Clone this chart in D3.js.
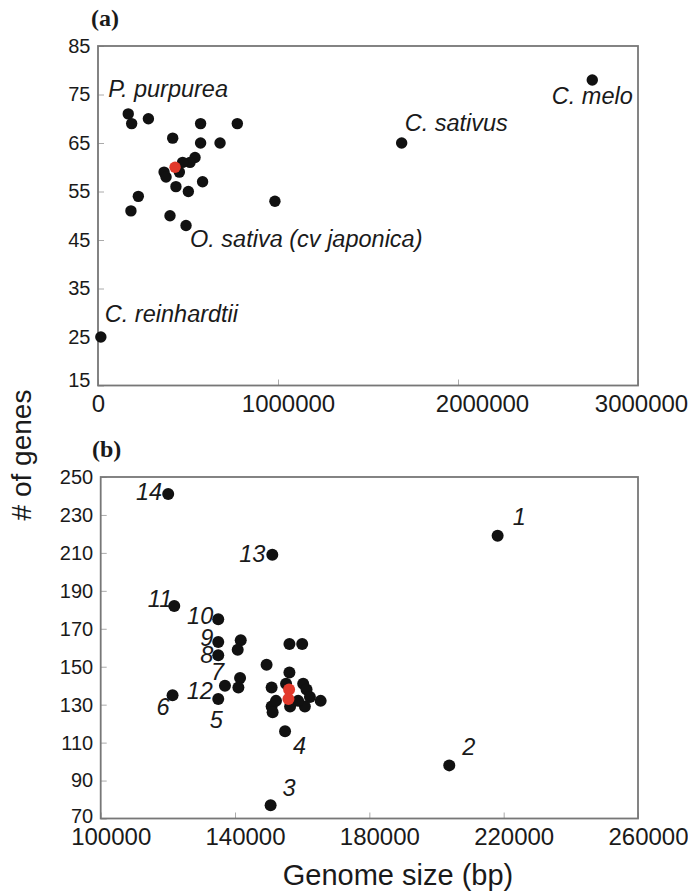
<!DOCTYPE html>
<html>
<head>
<meta charset="utf-8">
<script src="https://cdn.jsdelivr.net/npm/d3@7"></script>
<style>
  body { margin: 0; background: #fff; }
  text { font-family: "Liberation Sans", Arial, Helvetica, sans-serif; fill: #1a1a1a; }
</style>
</head>
<body>
<div id="chart"></div>
<script>
// ---- panel (a) : genome size vs gene count
const genomeA = [168000, 187000, 280000, 570000, 774000, 415000, 570000, 678000, 539000, 511000,
                 470000, 452000, 367000, 378000, 581000, 433000, 502000, 224000, 983000, 183000,
                 400000, 489000, 1687000, 2746000, 15800, 428000];
const genesA = [71, 69, 70, 69, 69, 66, 65, 65, 62, 61,
                61, 59, 59, 58, 57, 56, 55, 54, 53, 51,
                50, 48, 65, 78, 25, 60];
const namesA = ["P. purpurea", "", "", "", "", "", "", "", "", "",
                "", "", "", "", "", "", "", "", "", "",
                "", "O. sativa (cv japonica)", "C. sativus", "C. melo", "C. reinhardtii", ""];
const redA = [25];
const xTicksA = [0, 1000000, 2000000, 3000000];
const yTicksA = [15, 25, 35, 45, 55, 65, 75, 85];

// ---- panel (b)
const genomeB = [120100, 151100, 121900, 135000, 135000, 135000, 141700, 140800, 156200, 160000,
                 149400, 137000, 141500, 141000, 135000, 121400, 156200, 150900, 155200, 160300,
                 161300, 162300, 165500, 160800, 150900, 151200, 156400, 158800, 152200, 154900,
                 150600, 218200, 203800, 156100, 155900];
const genesB = [241, 209, 182, 175, 163, 156, 164, 159, 162, 162,
                151, 140, 144, 139, 133, 135, 147, 139, 141, 141,
                138, 134, 132, 129, 129, 126, 129, 132, 132, 116,
                77, 219, 98, 138, 133];
const namesB = ["14", "13", "11", "10", "9", "8", "", "", "", "",
                "", "12", "7", "", "5", "6", "", "", "", "",
                "", "", "", "", "", "", "", "", "", "4",
                "3", "1", "2", "", ""];
const redB = [33, 34];
const xTicksB = [100000, 140000, 180000, 220000, 260000];
const yTicksB = [70, 90, 110, 130, 150, 170, 190, 210, 230, 250];

const xTitle = "Genome size (bp)";
const yTitle = "# of genes";

const width = 688;
const height = 891;

const svg = d3.select('#chart')
    .append('svg')
    .attr('width', width)
    .attr('height', height);

// where each name sits relative to its dot: [dx, dy, anchor]
const labelPos = {
    "P. purpurea": [-20, -17, "start"],
    "C. sativus": [3, -12, "start"],
    "C. melo": [0, 24, "middle"],
    "O. sativa (cv japonica)": [4, 22, "start"],
    "C. reinhardtii": [4, -15, "start"],
    "14": [-6, 6, "end"], "13": [-7, 7, "end"], "11": [-2, 1, "end"],
    "10": [-5, 5, "end"], "9": [-5, 4, "end"], "8": [-5, 8, "end"],
    "7": [-16, 2, "end"], "12": [-12, 13, "end"], "5": [-2, 29, "middle"],
    "6": [-3, 20, "end"], "4": [8, 23, "start"], "3": [12, -9, "start"],
    "1": [15, -11, "start"], "2": [13, -10, "start"]
};

function drawPanel(p) {
    const g = svg.append('g');
    const x = d3.scaleLinear().domain(p.xDomain).range(p.xRange);
    const y = d3.scaleLinear().domain(p.yDomain).range(p.yRange);

    const xAxis = d3.axisBottom(x).tickValues(p.xTicks).tickFormat(d3.format('d'))
        .tickSizeInner(-6).tickSizeOuter(0).tickPadding(9);
    const yAxis = d3.axisLeft(y).tickValues(p.yTicks).tickFormat(d3.format('d'))
        .tickSizeInner(-6).tickSizeOuter(0).tickPadding(7.5);

    const gx = g.append('g')
        .attr('transform', `translate(0,${p.yRange[0]})`)
        .call(xAxis);
    const gy = g.append('g')
        .attr('transform', `translate(${p.xRange[0]},0)`)
        .call(yAxis);

    [gx, gy].forEach(a => {
        a.select('.domain').remove();
        a.selectAll('.tick line').attr('stroke', '#aaa').attr('stroke-width', 1);
    });
    gx.selectAll('.tick text')
        .style('font-size', '24px')
        .attr('fill', '#1a1a1a')
        .attr('dx', p.xShift);
    gy.selectAll('.tick text')
        .style('font-size', '20px')
        .attr('fill', '#1a1a1a')
        .attr('y', d => d === p.yDomain[0] ? -p.lift : 0);

    // frame
    g.append('rect')
        .attr('x', p.xRange[0])
        .attr('y', p.yRange[1])
        .attr('width', p.xRange[1] - p.xRange[0])
        .attr('height', p.yRange[0] - p.yRange[1])
        .attr('fill', 'none')
        .attr('stroke', '#777')
        .attr('stroke-width', 1.8);

    const idx = d3.range(p.genome.length);
    const black = idx.filter(i => !p.red.includes(i));

    g.selectAll('circle.dot')
        .data(black.concat(p.red))
        .join('circle')
        .attr('class', 'dot')
        .attr('cx', i => x(p.genome[i]))
        .attr('cy', i => y(p.genes[i]))
        .attr('r', p.r)
        .attr('fill', i => p.red.includes(i) ? '#e2392b' : '#111');

    g.selectAll('text.lab')
        .data(idx.filter(i => p.names[i] !== ''))
        .join('text')
        .attr('class', 'lab')
        .attr('x', i => x(p.genome[i]) + labelPos[p.names[i]][0])
        .attr('y', i => y(p.genes[i]) + labelPos[p.names[i]][1])
        .attr('text-anchor', i => labelPos[p.names[i]][2])
        .style('font-size', '23.5px')
        .style('font-style', 'italic')
        .text(i => p.names[i]);

    svg.append('text')
        .attr('x', p.tagX)
        .attr('y', p.tagY)
        .style('font-family', '"Liberation Serif", "Times New Roman", serif')
        .style('font-weight', 'bold')
        .style('font-size', '24px')
        .text(p.tag);
}

drawPanel({
    genome: genomeA, genes: genesA, names: namesA, red: redA,
    xTicks: xTicksA, yTicks: yTicksA,
    xDomain: [0, 3000000], xRange: [98, 638],
    yDomain: [15, 85], yRange: [385.5, 46],
    xShift: (d, i) => [0, 10, 24, 3][i], lift: 5,
    r: 5.7, tag: '(a)', tagX: 91, tagY: 26
});

drawPanel({
    genome: genomeB, genes: genesB, names: namesB, red: redB,
    xTicks: xTicksB, yTicks: yTicksB,
    xDomain: [100000, 260000], xRange: [100.7, 638],
    yDomain: [70, 250], yRange: [818.5, 477],
    xShift: () => 10, lift: 2,
    r: 6, tag: '(b)', tagX: 92, tagY: 457
});

// axis titles shared by both panels
svg.append('text')
    .attr('x', 398)
    .attr('y', 885)
    .attr('text-anchor', 'middle')
    .style('font-size', '29px')
    .text(xTitle);

svg.append('text')
    .attr('transform', 'translate(31,455) rotate(-90)')
    .attr('text-anchor', 'middle')
    .style('font-size', '28px')
    .text(yTitle);
</script>
</body>
</html>
